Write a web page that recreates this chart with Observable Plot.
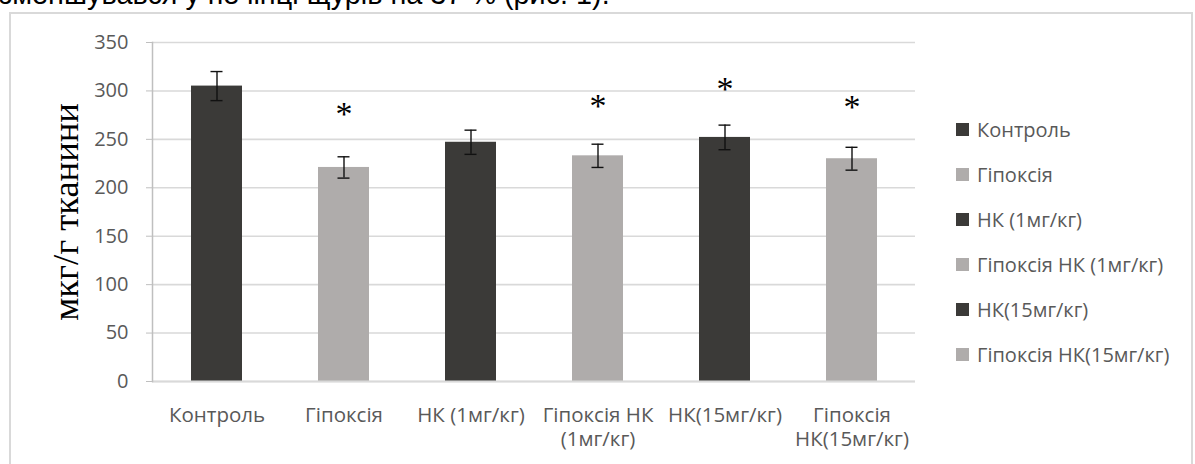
<!DOCTYPE html>
<html>
<head>
<meta charset="utf-8">
<script src="https://cdn.jsdelivr.net/npm/d3@7"></script>
<script src="https://cdn.jsdelivr.net/npm/@observablehq/plot@0.6"></script>
<style>
  html, body { margin: 0; padding: 0; background: #fff; }
  #wrap { position: relative; width: 1195px; height: 464px; overflow: hidden; background: #fff; }
  #toptext { position: absolute; left: -1px; top: -22px; font-family: "Liberation Sans", Arial, sans-serif; font-size: 28.8px; color: #000; white-space: nowrap; line-height: 32px; }
  #frame { position: absolute; left: 9px; top: 12px; width: 1184px; height: 500px; border: 2px solid #d9d9d9; box-sizing: border-box; }
  #chart { position: absolute; left: 0; top: 0; }
  #legend { position: absolute; left: 956px; top: 107px; font-family: "Open Sans", sans-serif; font-size: 20px; color: #595959; }
  #legend .row { height: 45px; display: flex; align-items: center; white-space: nowrap; }
  #legend .sw { width: 13px; height: 13px; margin-right: 8px; flex: none; }
</style>
</head>
<body>
<div id="wrap">
  <div id="toptext">зменшувався у печінці щурів на 37 % (рис. 1).</div>
  <div id="frame"></div>
  <div id="chart"></div>
  <div id="legend"></div>
</div>
<script>
// ---- data ----
const categories = ["Контроль", "Гіпоксія", "НК (1мг/кг)", "Гіпоксія НК (1мг/кг)", "НК(15мг/кг)", "Гіпоксія НК(15мг/кг)"];
const tickLabels = ["Контроль", "Гіпоксія", "НК (1мг/кг)", "Гіпоксія НК\n(1мг/кг)", "НК(15мг/кг)", "Гіпоксія\nНК(15мг/кг)"];
const values = [305, 221, 247, 233, 252, 230];
const errors = [15, 11, 12.5, 12, 12.7, 11.8];
const starLevels = [null, 280, null, 288, 306, 287];
const colors = ["#3b3a38", "#afacab", "#3b3a38", "#afacab", "#3b3a38", "#afacab"];
const yTicks = [0, 50, 100, 150, 200, 250, 300, 350];
const yTitle = "мкг/г тканини";

const rows = categories.map((c, i) => ({
  group: c, value: values[i], err: errors[i], star: starLevels[i], color: colors[i], label: tickLabels[i]
}));
const starRows = rows.filter(d => d.star != null);
const labelOf = new Map(rows.map(d => [d.group, d.label]));

const font = "'Open Sans', sans-serif";

const chart = Plot.plot({
  width: 1195,
  height: 464,
  marginLeft: 152,
  marginRight: 280,
  marginTop: 42,
  marginBottom: 83,
  style: { fontFamily: font, background: "transparent", overflow: "visible" },
  x: { domain: categories, paddingInner: 0.6, paddingOuter: 0.3, axis: null },
  y: { domain: [0, 350], axis: null },
  marks: [
    Plot.gridY(yTicks, { stroke: "#d9d9d9", strokeOpacity: 1, strokeWidth: 1.6 }),
    Plot.axisY(yTicks, {
      tickSize: 6, tickPadding: 18, stroke: "#bfbfbf", fill: "#595959",
      fontSize: 20, label: null, tickFormat: d => String(d)
    }),
    Plot.barY(rows, { x: "group", y: "value", fill: "color" }),
    Plot.ruleY([0], { stroke: "#d9d9d9", strokeWidth: 2 }),
    Plot.frame({ anchor: "left", stroke: "#bfbfbf", strokeWidth: 1.5 }),
    Plot.ruleX(rows, { x: "group", y1: d => d.value - d.err, y2: d => d.value + d.err, stroke: "#111", strokeWidth: 1.4 }),
    Plot.tickY(rows, { x: "group", y: d => d.value - d.err, stroke: "#111", strokeWidth: 1.4, insetLeft: 19.5, insetRight: 19.5 }),
    Plot.tickY(rows, { x: "group", y: d => d.value + d.err, stroke: "#111", strokeWidth: 1.4, insetLeft: 19.5, insetRight: 19.5 }),
    Plot.text(starRows, {
      x: "group", y: "star", text: () => "*", fontFamily: "'Liberation Serif', 'Times New Roman', serif",
      fontSize: 34, fill: "#000", dy: 4
    }),
    Plot.axisX(categories, {
      tickSize: 0, tickPadding: 24, fill: "#595959", fontSize: 20.5, lineHeight: 1.16,
      label: null, tickFormat: d => labelOf.get(d)
    }),
    Plot.text([yTitle], {
      frameAnchor: "left", dx: -86, rotate: -90, textAnchor: "middle", lineAnchor: "middle", text: d => d,
      fontFamily: "'Liberation Serif', 'Times New Roman', serif", fontSize: 36.5, fill: "#000"
    })
  ]
});
document.getElementById("chart").appendChild(chart);

// ---- legend ----
const legend = document.getElementById("legend");
rows.forEach(d => {
  const row = document.createElement("div");
  row.className = "row";
  const sw = document.createElement("span");
  sw.className = "sw";
  sw.style.background = d.color;
  const t = document.createElement("span");
  t.textContent = d.group;
  row.appendChild(sw);
  row.appendChild(t);
  legend.appendChild(row);
});
</script>
</body>
</html>
